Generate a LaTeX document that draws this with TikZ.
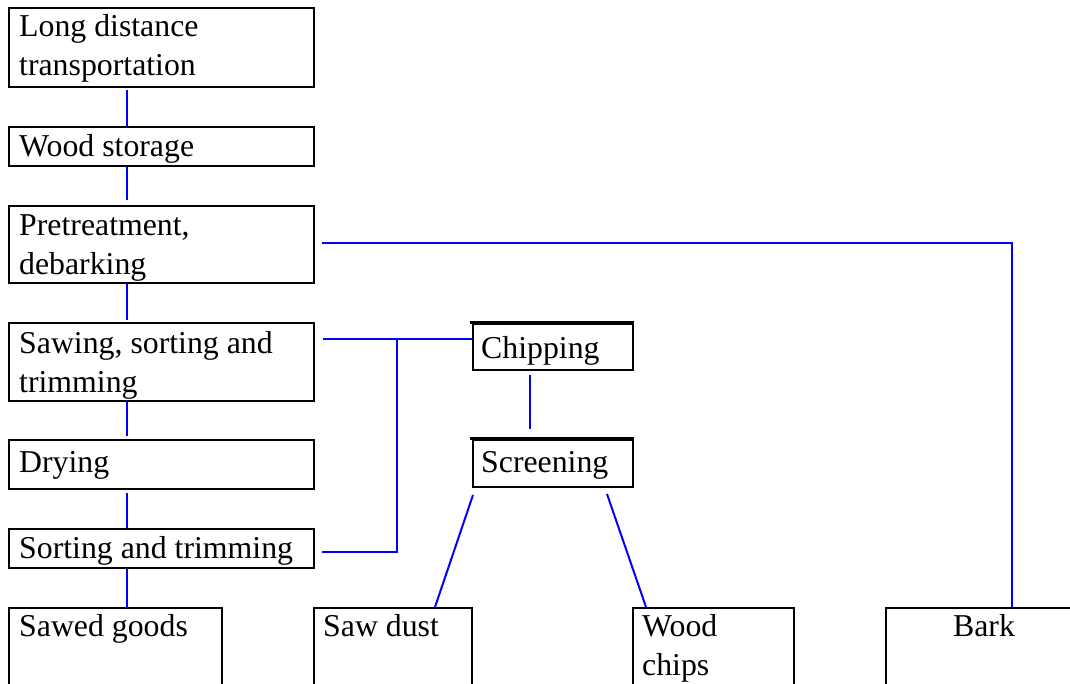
\documentclass[tikz,border=0pt]{standalone}
\usepackage{fontspec}
\setmainfont{Liberation Serif}
\usetikzlibrary{calc}
\begin{document}
\begin{tikzpicture}[x=1pt,y=-1pt,
  box/.style={draw=black,line width=2pt,rectangle,inner sep=0pt,anchor=north west},
  conn/.style={draw={rgb,255:red,0;green,0;blue,255},line width=2pt},
  txt/.style={anchor=base west,inner sep=0pt,align=left,font=\fontsize{31.8}{39}\selectfont},
  ctxt/.style={anchor=base,inner sep=0pt,font=\fontsize{31.8}{39}\selectfont}]
\useasboundingbox (0,0) rectangle (1070,684);
\clip (0,0) rectangle (1070,684);
% boxes
\node[box,minimum width=305pt,minimum height=79pt] (b1) at (8,7) {};
\node[box,minimum width=305pt,minimum height=39pt] (b2) at (8,126) {};
\node[box,minimum width=305pt,minimum height=77pt] (b3) at (8,205) {};
\node[box,minimum width=305pt,minimum height=78pt] (b4) at (8,322) {};
\node[box,minimum width=305pt,minimum height=49pt] (b5) at (8,439) {};
\node[box,minimum width=305pt,minimum height=39pt] (b6) at (8,528) {};
\node[box,minimum width=213pt,minimum height=110pt] (b7) at (8,607) {};
\node[box,minimum width=158pt,minimum height=110pt] (b8) at (313,607) {};
\node[box,minimum width=161pt,minimum height=110pt] (b9) at (632,607) {};
\node[box,minimum width=200pt,minimum height=110pt] (b10) at (885,607) {};
\node[box,minimum width=160pt,minimum height=46pt] (chip) at (472,323) {};
\node[box,minimum width=160pt,minimum height=47pt] (scr) at (472,439) {};
\draw[line width=3pt] ([xshift=-2pt,yshift=0.5pt]chip.north west) -- ([yshift=0.5pt]chip.north east);
\draw[line width=3pt] ([xshift=-2pt,yshift=0.5pt]scr.north west) -- ([yshift=0.5pt]scr.north east);
% texts (base = baseline of the last line)
\node[txt] (t1) at (19,76) {Long distance\\transportation};
\node[txt] (t2) at (19,157) {Wood storage};
\node[txt] (t3) at (19,275) {Pretreatment,\\debarking};
\node[txt] (t4) at (19,392) {Sawing, sorting and\\trimming};
\node[txt] (t5) at (19,472) {Drying};
\node[txt] (t6) at (19,558) {Sorting and trimming};
\node[txt] (t7) at (19,636) {Sawed goods};
\node[txt] (t8) at (323,636) {Saw dust};
\node[txt] (t9) at (642,675) {Wood\\chips};
\node[ctxt] (t10) at (984,636) {Bark};
\node[txt] (t11) at (481,358) {Chipping};
\node[txt] (t12) at (481,472) {Screening};
% connectors
\coordinate (sp) at (127,0);
\draw[conn] ([yshift=-2pt]b1.south -| sp) -- (b2.north -| sp);
\draw[conn] (b2.south -| sp) -- ([yshift=5pt]b3.north -| sp);
\draw[conn] (b3.south -| sp) -- ([yshift=2pt]b4.north -| sp);
\draw[conn] (b4.south -| sp) -- ([yshift=3pt]b5.north -| sp);
\draw[conn] ([yshift=-3pt]b5.south -| sp) -- (b6.north -| sp);
\draw[conn] (b6.south -| sp) -- (b7.north -| sp);
\draw[conn] ([xshift=7pt,yshift=1.5pt]b3.east) -| ([xshift=127pt]b10.north west);
\coordinate (tee) at (397,339);
\draw[conn] ([xshift=8pt]b4.east |- tee) -- (tee -| chip.west);
\draw[conn] (tee) |- ([xshift=7pt,yshift=-3.5pt]b6.east);
\draw[conn] ([xshift=58pt,yshift=-4pt]chip.south west) -- ([xshift=58pt,yshift=10pt]scr.north west);
\draw[conn] ([xshift=1pt,yshift=-7pt]scr.south west) -- ([xshift=122pt]b8.north west);
\draw[conn] ([xshift=135pt,yshift=-6pt]scr.south west) -- ([xshift=14pt]b9.north west);
\end{tikzpicture}
\end{document}
